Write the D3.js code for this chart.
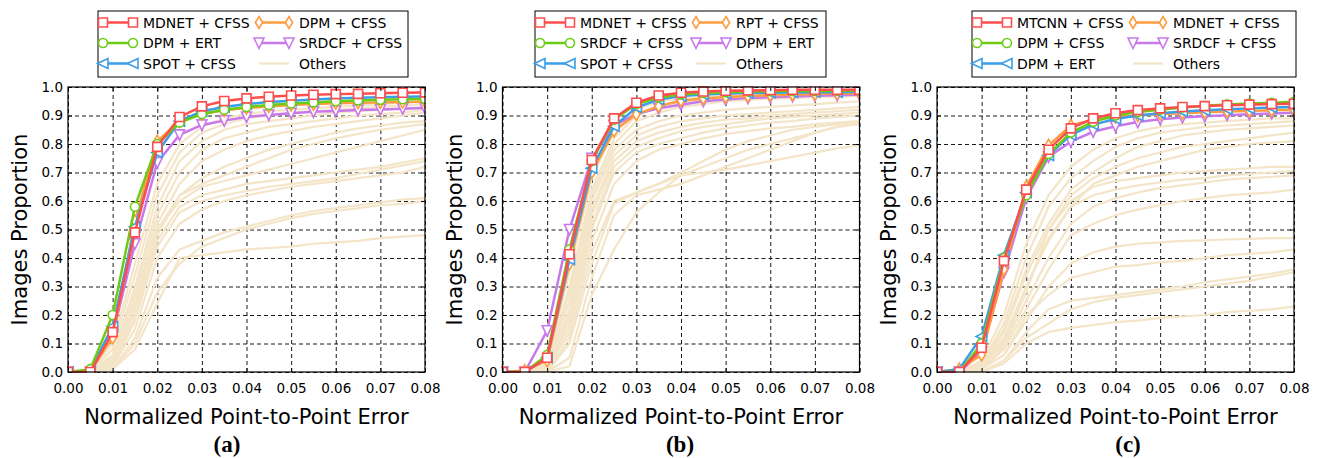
<!DOCTYPE html>
<html>
<head>
<meta charset="utf-8">
<script src="https://cdnjs.cloudflare.com/ajax/libs/d3/7.8.5/d3.min.js"></script>
<style>
body { margin: 0; background: #fff; }
svg { display: block; }
text { font-family: "DejaVu Sans", sans-serif; fill: #000; }
</style>
</head>
<body>
<svg id="chart" width="1321" height="458"></svg>
<script>
// error thresholds where every curve is sampled
let steps = [0, 0.005, 0.01, 0.015, 0.02, 0.025, 0.03, 0.035, 0.04, 0.045, 0.05, 0.055, 0.06, 0.065, 0.07, 0.075, 0.08]
let xTicks = [0, 0.01, 0.02, 0.03, 0.04, 0.05, 0.06, 0.07, 0.08]
let yTicks = [0, 0.1, 0.2, 0.3, 0.4, 0.5, 0.6, 0.7, 0.8, 0.9, 1.0]

// (a)
let namesA = ['MDNET + CFSS', 'DPM + ERT', 'SPOT + CFSS', 'DPM + CFSS', 'SRDCF + CFSS']
let a1 = [0, 0, .14, .49, .79, .895, .932, .951, .96, .966, .97, .973, .975, .976, .978, .98, .981]
let a2 = [0, .01, .20, .58, .80, .875, .905, .92, .93, .937, .942, .946, .95, .953, .955, .957, .958]
let a3 = [0, .005, .16, .51, .77, .88, .915, .93, .94, .947, .952, .956, .96, .962, .964, .966, .967]
let a4 = [0, .005, .12, .53, .81, .88, .905, .918, .926, .932, .937, .94, .943, .945, .946, .947, .948]
let a5 = [0, 0, .13, .45, .735, .832, .867, .882, .895, .902, .908, .913, .916, .919, .921, .924, .926]
let othersA = [
	[0, 0, .10, .38, .66, .80, .86, .89, .905, .915, .92, .925, .93, .935, .94, .945, .95],
	[0, 0, .08, .34, .62, .77, .84, .87, .89, .90, .91, .915, .92, .925, .93, .935, .94],
	[0, 0, .06, .30, .58, .74, .81, .85, .87, .88, .89, .90, .91, .915, .92, .925, .93],
	[0, 0, .05, .28, .55, .70, .78, .82, .84, .86, .87, .88, .89, .90, .905, .91, .92],
	[0, 0, .04, .25, .52, .66, .74, .78, .81, .83, .845, .86, .87, .88, .89, .90, .91],
	[0, 0, .05, .27, .50, .62, .68, .72, .75, .78, .80, .82, .84, .855, .865, .875, .88],
	[0, 0, .03, .22, .48, .62, .66, .69, .72, .75, .78, .80, .82, .835, .85, .86, .87],
	[0, 0, .04, .24, .50, .60, .65, .67, .69, .71, .73, .75, .77, .79, .81, .83, .85],
	[0, 0, .03, .20, .46, .58, .62, .64, .66, .67, .68, .69, .70, .71, .72, .735, .75],
	[0, 0, .02, .18, .44, .56, .60, .62, .635, .65, .66, .67, .68, .695, .71, .725, .74],
	[0, 0, .02, .15, .40, .52, .57, .60, .62, .635, .65, .66, .67, .68, .69, .70, .72],
	[0, 0, .01, .12, .33, .43, .46, .49, .51, .53, .55, .565, .575, .585, .595, .605, .61],
	[0, 0, .01, .10, .28, .38, .44, .47, .50, .52, .54, .555, .565, .575, .585, .59, .60],
	[0, 0, .01, .08, .24, .40, .41, .42, .43, .435, .44, .45, .455, .46, .47, .475, .48]
]

// (b)
let namesB = ['MDNET + CFSS', 'SRDCF + CFSS', 'SPOT + CFSS', 'RPT + CFSS', 'DPM + ERT']
let b1 = [0, 0, .05, .413, .744, .89, .945, .97, .98, .984, .987, .988, .989, .99, .99, .99, .99]
let b2 = [0, 0, .06, .43, .74, .885, .94, .963, .974, .979, .982, .984, .985, .986, .986, .987, .987]
let b3 = [0, 0, .05, .395, .715, .862, .928, .956, .968, .974, .977, .979, .98, .981, .982, .982, .983]
let b4 = [0, .005, .04, .38, .70, .846, .904, .933, .952, .96, .965, .968, .971, .973, .975, .977, .978]
let b5 = [0, 0, .145, .50, .75, .865, .905, .925, .938, .95, .956, .961, .964, .967, .969, .971, .973]
let othersB = [
	[0, 0, .03, .35, .68, .85, .92, .95, .96, .965, .97, .975, .975, .98, .98, .98, .98],
	[0, 0, .02, .30, .64, .82, .90, .93, .945, .955, .96, .965, .97, .97, .97, .975, .975],
	[0, 0, .02, .28, .62, .80, .88, .91, .93, .94, .95, .955, .96, .96, .965, .965, .97],
	[0, 0, .02, .25, .60, .78, .85, .88, .90, .91, .92, .925, .93, .935, .94, .945, .95],
	[0, 0, .01, .22, .57, .76, .83, .86, .88, .89, .90, .905, .91, .915, .92, .925, .93],
	[0, 0, .01, .20, .55, .74, .81, .84, .86, .875, .885, .89, .90, .905, .91, .915, .92],
	[0, 0, .01, .18, .52, .72, .79, .82, .845, .86, .87, .88, .89, .895, .90, .905, .91],
	[0, 0, .01, .16, .50, .70, .77, .80, .82, .84, .855, .865, .875, .88, .89, .895, .90],
	[0, 0, .01, .14, .46, .66, .74, .78, .80, .82, .835, .845, .855, .86, .87, .875, .88],
	[0, 0, 0, .12, .42, .60, .63, .66, .70, .74, .78, .81, .83, .85, .86, .87, .875],
	[0, 0, 0, .10, .38, .59, .63, .66, .69, .72, .75, .78, .80, .82, .84, .86, .87],
	[0, 0, 0, .02, .27, .43, .56, .63, .69, .70, .71, .725, .74, .755, .77, .785, .795],
	[0, 0, 0, .05, .33, .55, .62, .64, .66, .69, .72, .75, .78, .81, .84, .86, .875]
]

// (c)
let namesC = ['MTCNN + CFSS', 'DPM + CFSS', 'DPM + ERT', 'MDNET + CFSS', 'SRDCF + CFSS']
let c1 = [0, 0, .085, .39, .64, .78, .855, .89, .908, .919, .925, .93, .933, .936, .938, .94, .941]
let c2 = [0, 0, .10, .40, .62, .765, .84, .878, .90, .912, .92, .928, .934, .939, .942, .945, .948]
let c3 = [0, .01, .125, .41, .63, .76, .832, .868, .888, .90, .908, .914, .918, .922, .925, .928, .93]
let c4 = [0, .01, .06, .36, .65, .795, .865, .885, .895, .90, .905, .908, .911, .914, .916, .918, .92]
let c5 = [0, 0, .07, .35, .61, .755, .808, .843, .862, .877, .887, .893, .897, .901, .904, .907, .91]
let othersC = [
	[0, 0, .04, .20, .45, .62, .72, .78, .82, .845, .86, .87, .875, .88, .885, .89, .89],
	[0, 0, .03, .17, .40, .58, .68, .74, .79, .82, .84, .85, .86, .865, .87, .875, .88],
	[0, 0, .03, .15, .36, .52, .64, .70, .75, .79, .81, .83, .84, .85, .855, .86, .865],
	[0, 0, .02, .14, .34, .50, .62, .68, .72, .75, .77, .79, .80, .81, .82, .83, .84],
	[0, 0, .02, .12, .30, .46, .58, .66, .69, .72, .74, .76, .78, .79, .80, .805, .81],
	[0, 0, .02, .10, .28, .50, .60, .65, .67, .68, .69, .70, .705, .71, .715, .72, .72],
	[0, 0, .02, .11, .30, .47, .58, .62, .64, .655, .665, .675, .68, .69, .695, .70, .705],
	[0, 0, .01, .09, .25, .40, .52, .58, .61, .63, .645, .655, .665, .675, .68, .685, .69],
	[0, 0, .01, .08, .22, .36, .48, .52, .55, .57, .585, .60, .61, .62, .625, .63, .64],
	[0, 0, .01, .06, .18, .30, .38, .42, .44, .45, .455, .46, .462, .465, .467, .47, .47],
	[0, 0, .01, .06, .20, .27, .33, .35, .37, .375, .385, .39, .40, .41, .415, .42, .43],
	[0, 0, 0, .04, .14, .22, .25, .26, .27, .28, .29, .30, .315, .325, .335, .345, .36],
	[0, 0, 0, .04, .12, .17, .22, .245, .26, .27, .28, .29, .30, .31, .32, .335, .35],
	[0, 0, 0, .03, .10, .14, .155, .165, .175, .18, .19, .195, .20, .21, .215, .22, .23]
]

let panels = [
	{ names: namesA, series: [a1, a2, a3, a4, a5], others: othersA, caption: '(a)' },
	{ names: namesB, series: [b1, b2, b3, b4, b5], others: othersB, caption: '(b)' },
	{ names: namesC, series: [c1, c2, c3, c4, c5], others: othersC, caption: '(c)' }
]

// same look for the 5 slots in every panel
let colors = ['#ff4d4d', '#6ccc14', '#3a9ee8', '#ff9c40', '#c978ec']
let shapes = ['square', 'circle', 'tleft', 'diamond', 'tdown']
let othersColor = '#f4e5c8'

let marker = (shape) => {
	let r = 4.5
	if (shape == 'square') return `M${-r},${-r}H${r}V${r}H${-r}Z`
	if (shape == 'circle') return `M${r},0A${r},${r} 0 1,1 ${-r},0A${r},${r} 0 1,1 ${r},0Z`
	if (shape == 'tleft') return `M${-5.5},0L${5},${-5}L${5},${5}Z`
	if (shape == 'diamond') return `M0,${-6}L${3.6},0L0,${6}L${-3.6},0Z`
	return `M${-5},${-5}L${5},${-5}L0,${5.5}Z` // tdown
}

let svg = d3.select('#chart')
let panelLeft = [68, 502.5, 937]
let plotTop = 87, pw = 357, ph = 285
let legendLeft = [98, 535, 972]
let legendWidth = [310, 291, 324]
let captionX = [227, 680, 1128]

let x = d3.scaleLinear().domain([0, 0.08]).range([0, pw])
let y = d3.scaleLinear().domain([0, 1]).range([ph, 0])
let line = d3.line().x((d, i) => x(steps[i])).y(d => y(d))

panels.forEach((p, pi) => {
	let g = svg.append('g').attr('transform', `translate(${panelLeft[pi]},${plotTop})`)

	g.append('clipPath').attr('id', 'clip' + pi)
		.append('rect').attr('x', -1).attr('y', -1).attr('width', pw + 2).attr('height', ph + 2)

	// grid + tick labels
	let xa = g.append('g').attr('transform', `translate(0,${ph})`)
		.call(d3.axisBottom(x).tickValues(xTicks).tickFormat(d3.format('.2f')).tickSize(-ph).tickPadding(11))
	let ya = g.append('g')
		.call(d3.axisLeft(y).tickValues(yTicks).tickFormat(d3.format('.1f')).tickSize(-pw).tickPadding(5))
	;[xa, ya].forEach(a => {
		a.select('.domain').remove()
		a.selectAll('line').attr('stroke', '#000').attr('stroke-width', 0.9).attr('stroke-dasharray', '4,3')
		a.selectAll('text').style('font-size', '13.5px').style('font-family', '"DejaVu Sans", sans-serif')
	})

	let plot = g.append('g').attr('clip-path', `url(#clip${pi})`)

	plot.selectAll('path.other').data(p.others).enter().append('path')
		.attr('class', 'other')
		.attr('d', line)
		.attr('fill', 'none')
		.attr('stroke', othersColor)
		.attr('stroke-width', 2.2)
		.attr('stroke-linejoin', 'round')

	// draw last legend entry first so the first one lands on top
	d3.range(p.series.length).reverse().forEach(k => {
		let vals = p.series[k]
		plot.append('path')
			.attr('d', line(vals))
			.attr('fill', 'none')
			.attr('stroke', colors[k])
			.attr('stroke-width', 2.5)
		plot.selectAll(null).data(vals).enter().append('path')
			.attr('d', marker(shapes[k]))
			.attr('transform', (d, i) => `translate(${x(steps[i])},${y(d)})`)
			.attr('fill', '#fff')
			.attr('stroke', colors[k])
			.attr('stroke-width', 1.6)
	})

	// frame with small inward ticks
	g.append('rect').attr('width', pw).attr('height', ph).attr('fill', 'none').attr('stroke', '#000').attr('stroke-width', 1.2)
	g.append('g').attr('transform', `translate(0,${ph})`).call(d3.axisBottom(x).tickValues(xTicks).tickSize(-4).tickFormat(''))
		.call(a => a.select('.domain').remove())
	g.append('g').call(d3.axisTop(x).tickValues(xTicks).tickSize(-4).tickFormat(''))
		.call(a => a.select('.domain').remove())
	g.append('g').call(d3.axisLeft(y).tickValues(yTicks).tickSize(-4).tickFormat(''))
		.call(a => a.select('.domain').remove())
	g.append('g').attr('transform', `translate(${pw},0)`).call(d3.axisRight(y).tickValues(yTicks).tickSize(-4).tickFormat(''))
		.call(a => a.select('.domain').remove())

	// axis titles
	g.append('text')
		.attr('transform', `translate(${-41},${ph / 2}) rotate(-90)`)
		.attr('text-anchor', 'middle')
		.style('font-size', '21px')
		.text('Images Proportion')
	g.append('text')
		.attr('x', pw / 2).attr('y', 337)
		.attr('text-anchor', 'middle')
		.style('font-size', '21px')
		.text('Normalized Point-to-Point Error')
	svg.append('text')
		.attr('x', captionX[pi]).attr('y', 452)
		.attr('text-anchor', 'middle')
		.style('font-family', '"Liberation Serif", serif')
		.style('font-weight', 'bold')
		.style('font-size', '23px')
		.text(p.caption)

	// legend, two columns filled top to bottom
	let entries = p.names.map((n, k) => ({ name: n, k: k })).concat([{ name: 'Others', k: -1 }])
	let lg = svg.append('g').attr('transform', `translate(${legendLeft[pi]},11)`)
	lg.append('rect').attr('width', legendWidth[pi]).attr('height', 66)
		.attr('fill', '#fff').attr('stroke', '#000').attr('stroke-width', 1)
	let rowY = [11.5, 32, 52.5]
	entries.forEach((e, j) => {
		let col = Math.floor(j / 3), row = j % 3
		let hx = 5 + col * 156
		let ey = rowY[row]
		let color = e.k < 0 ? othersColor : colors[e.k]
		lg.append('line').attr('x1', hx).attr('x2', hx + 30).attr('y1', ey).attr('y2', ey)
			.attr('stroke', color).attr('stroke-width', e.k < 0 ? 2.2 : 2.5)
		if (e.k >= 0) {
			;[hx, hx + 30].forEach(mx => {
				lg.append('path').attr('d', marker(shapes[e.k]))
					.attr('transform', `translate(${mx},${ey})`)
					.attr('fill', '#fff').attr('stroke', color).attr('stroke-width', 1.6)
			})
		}
		lg.append('text').attr('x', hx + 40).attr('y', ey + 5.2)
			.style('font-size', '14px').text(e.name)
	})
})
</script>
</body>
</html>
